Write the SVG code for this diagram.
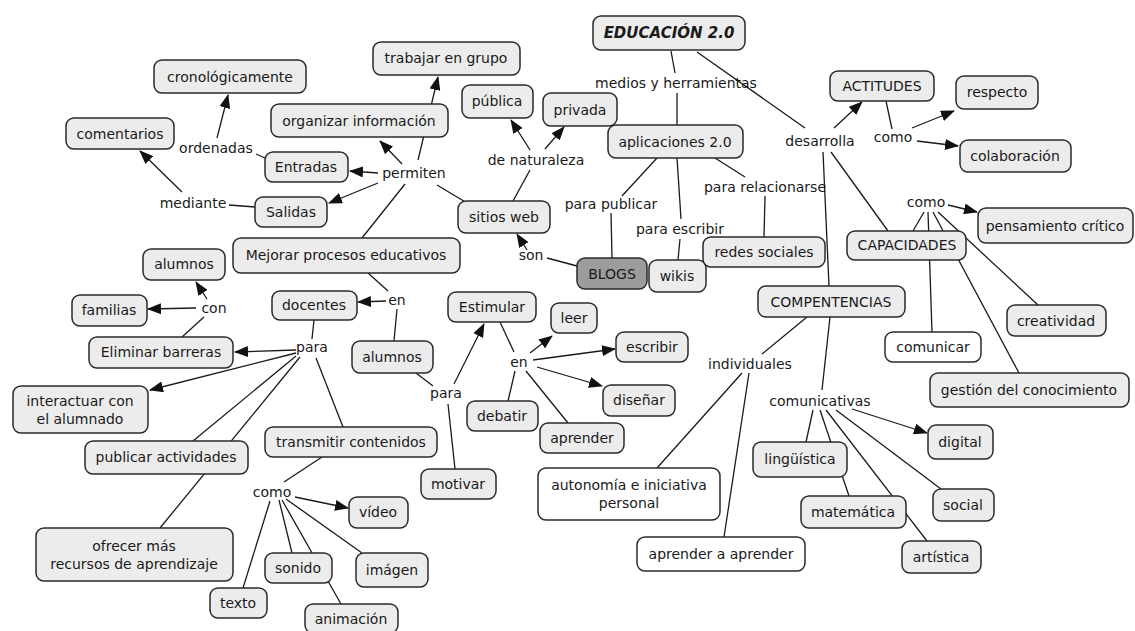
<svg xmlns="http://www.w3.org/2000/svg" width="1135" height="631" viewBox="0 0 1135 631">
<style>
text{font-family:"DejaVu Sans",Verdana,sans-serif;font-size:14px;fill:#1a1a1a;text-anchor:middle;dominant-baseline:central}
.n rect{fill:#ececec;stroke:#2a2a2a;stroke-width:1.5}
.w rect{fill:#ffffff}
.dk rect{fill:#9c9c9c}
#conn line{stroke:#1a1a1a;stroke-width:1.3}
#conn .a{marker-end:url(#ah)}
.t{font-weight:bold;font-style:italic;font-size:15px}
</style>
<defs>
<marker id="ah" markerUnits="userSpaceOnUse" markerWidth="14" markerHeight="11" refX="13" refY="5.5" orient="auto"><path d="M0,0 L14,5.5 L0,11 z" fill="#111"/></marker>
</defs>
<rect width="1135" height="631" fill="#fff"/>
<g id="conn">
<line x1="671" y1="51" x2="675" y2="73"/>
<line x1="677" y1="93" x2="677" y2="125"/>
<line x1="697" y1="52" x2="805" y2="128"/>
<line x1="823" y1="152" x2="829" y2="286"/>
<line x1="831" y1="152" x2="888" y2="231"/>
<line x1="886" y1="101" x2="892" y2="129"/>
<line x1="924" y1="212" x2="913" y2="231"/>
<line x1="928" y1="212" x2="932" y2="332"/>
<line x1="933" y1="212" x2="1019" y2="373"/>
<line x1="938" y1="212" x2="1038" y2="305"/>
<line x1="657" y1="158" x2="622" y2="196"/>
<line x1="611" y1="213" x2="612" y2="258"/>
<line x1="677" y1="158" x2="681" y2="219"/>
<line x1="680" y1="239" x2="678" y2="260"/>
<line x1="715" y1="158" x2="745" y2="177"/>
<line x1="765" y1="196" x2="764" y2="237"/>
<line x1="577" y1="266" x2="547" y2="258"/>
<line x1="513" y1="201" x2="530" y2="170"/>
<line x1="467" y1="203" x2="437" y2="185"/>
<line x1="405" y1="184" x2="362" y2="238"/>
<line x1="265" y1="158" x2="256" y2="154"/>
<line x1="255" y1="207" x2="229" y2="205"/>
<line x1="368" y1="273" x2="388" y2="291"/>
<line x1="397" y1="309" x2="394" y2="341"/>
<line x1="314" y1="320" x2="312" y2="339"/>
<line x1="296" y1="356" x2="193" y2="441"/>
<line x1="300" y1="357" x2="160" y2="528"/>
<line x1="316" y1="358" x2="343" y2="427"/>
<line x1="322" y1="457" x2="284" y2="482"/>
<line x1="286" y1="499" x2="362" y2="553"/>
<line x1="279" y1="500" x2="292" y2="553"/>
<line x1="282" y1="500" x2="341" y2="604"/>
<line x1="270" y1="501" x2="243" y2="588"/>
<line x1="416" y1="373" x2="433" y2="386"/>
<line x1="448" y1="404" x2="455" y2="469"/>
<line x1="500" y1="322" x2="514" y2="352"/>
<line x1="515" y1="371" x2="508" y2="401"/>
<line x1="526" y1="371" x2="568" y2="423"/>
<line x1="807" y1="317" x2="762" y2="354"/>
<line x1="742" y1="373" x2="657" y2="468"/>
<line x1="749" y1="373" x2="724" y2="537"/>
<line x1="830" y1="317" x2="822" y2="390"/>
<line x1="813" y1="410" x2="806" y2="442"/>
<line x1="820" y1="410" x2="849" y2="496"/>
<line x1="826" y1="410" x2="927" y2="541"/>
<line x1="836" y1="410" x2="941" y2="489"/>
<line x1="182" y1="337" x2="204" y2="317"/>
<line class="a" x1="834" y1="128" x2="862" y2="102"/>
<line class="a" x1="912" y1="128" x2="954" y2="111"/>
<line class="a" x1="917" y1="141" x2="958" y2="146"/>
<line class="a" x1="948" y1="205" x2="977" y2="212"/>
<line class="a" x1="527" y1="250" x2="517" y2="234"/>
<line class="a" x1="530" y1="150" x2="511" y2="120"/>
<line class="a" x1="545" y1="149" x2="564" y2="127"/>
<line class="a" x1="402" y1="164" x2="380" y2="141"/>
<line class="a" x1="418" y1="160" x2="438" y2="77"/>
<line class="a" x1="378" y1="173" x2="350" y2="171"/>
<line class="a" x1="378" y1="183" x2="329" y2="203"/>
<line class="a" x1="217" y1="138" x2="228" y2="95"/>
<line class="a" x1="182" y1="192" x2="140" y2="151"/>
<line class="a" x1="386" y1="301" x2="358" y2="302"/>
<line class="a" x1="296" y1="350" x2="235" y2="352"/>
<line class="a" x1="296" y1="353" x2="150" y2="390"/>
<line class="a" x1="295" y1="497" x2="348" y2="508"/>
<line class="a" x1="454" y1="384" x2="484" y2="324"/>
<line class="a" x1="530" y1="353" x2="552" y2="336"/>
<line class="a" x1="533" y1="360" x2="615" y2="349"/>
<line class="a" x1="537" y1="367" x2="602" y2="386"/>
<line class="a" x1="852" y1="409" x2="927" y2="433"/>
<line class="a" x1="196" y1="308" x2="148" y2="309"/>
<line class="a" x1="207" y1="299" x2="196" y2="282"/>
</g>
<g id="edu" class="n"><rect x="593" y="16" width="152" height="34" rx="8"/><text class="t" x="669" y="33">EDUCACIÓN 2.0</text></g>
<g id="crono" class="n"><rect x="154" y="60" width="152" height="33" rx="8"/><text x="230" y="77">cronológicamente</text></g>
<g id="coment" class="n"><rect x="66" y="118" width="108" height="31" rx="8"/><text x="120" y="134">comentarios</text></g>
<g id="trabajar" class="n"><rect x="373" y="42" width="147" height="33" rx="8"/><text x="446" y="58">trabajar en grupo</text></g>
<g id="organizar" class="n"><rect x="271" y="104" width="177" height="33" rx="8"/><text x="359" y="121">organizar información</text></g>
<g id="entradas" class="n"><rect x="265" y="152" width="83" height="30" rx="8"/><text x="306" y="167">Entradas</text></g>
<g id="salidas" class="n"><rect x="255" y="197" width="72" height="30" rx="8"/><text x="291" y="212">Salidas</text></g>
<g id="publica" class="n"><rect x="462" y="85" width="71" height="33" rx="8"/><text x="497" y="101">pública</text></g>
<g id="privada" class="n"><rect x="543" y="93" width="74" height="33" rx="8"/><text x="580" y="110">privada</text></g>
<g id="aplic" class="n"><rect x="608" y="125" width="135" height="33" rx="8"/><text x="675" y="142">aplicaciones 2.0</text></g>
<g id="sitios" class="n"><rect x="458" y="201" width="92" height="32" rx="8"/><text x="504" y="217">sitios web</text></g>
<g id="blogs" class="n dk"><rect x="577" y="258" width="70" height="31" rx="8"/><text x="612" y="274">BLOGS</text></g>
<g id="wikis" class="n"><rect x="649" y="260" width="57" height="32" rx="8"/><text x="677" y="276">wikis</text></g>
<g id="redes" class="n"><rect x="703" y="237" width="122" height="30" rx="8"/><text x="764" y="252">redes sociales</text></g>
<g id="actitudes" class="n"><rect x="830" y="71" width="104" height="30" rx="8"/><text x="882" y="86">ACTITUDES</text></g>
<g id="respecto" class="n"><rect x="956" y="76" width="82" height="33" rx="8"/><text x="997" y="92">respecto</text></g>
<g id="colab" class="n"><rect x="960" y="140" width="111" height="32" rx="8"/><text x="1015" y="156">colaboración</text></g>
<g id="pensamiento" class="n"><rect x="978" y="208" width="155" height="35" rx="8"/><text x="1055" y="226">pensamiento crítico</text></g>
<g id="capacidades" class="n"><rect x="847" y="231" width="119" height="29" rx="8"/><text x="907" y="245">CAPACIDADES</text></g>
<g id="compet" class="n"><rect x="758" y="286" width="147" height="31" rx="8"/><text x="831" y="302">COMPENTENCIAS</text></g>
<g id="creatividad" class="n"><rect x="1007" y="305" width="99" height="31" rx="8"/><text x="1056" y="321">creatividad</text></g>
<g id="comunicar" class="n w"><rect x="885" y="332" width="96" height="30" rx="8"/><text x="933" y="347">comunicar</text></g>
<g id="gestion" class="n"><rect x="930" y="373" width="199" height="34" rx="8"/><text x="1029" y="390">gestión del conocimiento</text></g>
<g id="digital" class="n"><rect x="928" y="425" width="65" height="34" rx="8"/><text x="960" y="442">digital</text></g>
<g id="social" class="n"><rect x="933" y="489" width="61" height="32" rx="8"/><text x="963" y="505">social</text></g>
<g id="artistica" class="n"><rect x="902" y="541" width="79" height="32" rx="8"/><text x="941" y="557">artística</text></g>
<g id="matematica" class="n"><rect x="801" y="496" width="105" height="32" rx="8"/><text x="853" y="512">matemática</text></g>
<g id="linguistica" class="n"><rect x="753" y="442" width="94" height="35" rx="8"/><text x="800" y="459">lingüística</text></g>
<g id="aprAapr" class="n w"><rect x="637" y="537" width="168" height="34" rx="8"/><text x="721" y="554">aprender a aprender</text></g>
<g id="autonomia" class="n w"><rect x="538" y="468" width="182" height="52" rx="8"/><text x="629" y="485">autonomía e iniciativa</text><text x="629" y="503">personal</text></g>
<g id="aprender" class="n"><rect x="540" y="423" width="84" height="30" rx="8"/><text x="582" y="438">aprender</text></g>
<g id="disenar" class="n"><rect x="603" y="385" width="72" height="31" rx="8"/><text x="639" y="400">diseñar</text></g>
<g id="escribir" class="n"><rect x="616" y="332" width="72" height="30" rx="8"/><text x="652" y="347">escribir</text></g>
<g id="leer" class="n"><rect x="551" y="303" width="46" height="30" rx="8"/><text x="574" y="318">leer</text></g>
<g id="estimular" class="n"><rect x="448" y="292" width="88" height="30" rx="8"/><text x="492" y="307">Estimular</text></g>
<g id="debatir" class="n"><rect x="467" y="401" width="71" height="30" rx="8"/><text x="502" y="416">debatir</text></g>
<g id="motivar" class="n"><rect x="421" y="469" width="75" height="30" rx="8"/><text x="458" y="484">motivar</text></g>
<g id="alumnosMid" class="n"><rect x="352" y="341" width="81" height="32" rx="8"/><text x="392" y="357">alumnos</text></g>
<g id="docentes" class="n"><rect x="272" y="291" width="85" height="29" rx="8"/><text x="314" y="305">docentes</text></g>
<g id="mejorar" class="n"><rect x="233" y="238" width="227" height="35" rx="8"/><text x="346" y="255">Mejorar procesos educativos</text></g>
<g id="alumnosL" class="n"><rect x="143" y="249" width="82" height="31" rx="8"/><text x="184" y="264">alumnos</text></g>
<g id="familias" class="n"><rect x="72" y="295" width="75" height="31" rx="8"/><text x="109" y="310">familias</text></g>
<g id="eliminar" class="n"><rect x="89" y="337" width="144" height="31" rx="8"/><text x="161" y="352">Eliminar barreras</text></g>
<g id="interactuar" class="n"><rect x="13" y="386" width="135" height="47" rx="8"/><text x="80" y="401">interactuar con</text><text x="80" y="419">el alumnado</text></g>
<g id="publicar" class="n"><rect x="85" y="441" width="163" height="33" rx="8"/><text x="166" y="457">publicar actividades</text></g>
<g id="transmitir" class="n"><rect x="265" y="427" width="172" height="30" rx="8"/><text x="351" y="442">transmitir contenidos</text></g>
<g id="ofrecer" class="n"><rect x="36" y="528" width="197" height="53" rx="8"/><text x="134" y="546">ofrecer más</text><text x="134" y="564">recursos de aprendizaje</text></g>
<g id="texto" class="n"><rect x="210" y="588" width="57" height="30" rx="8"/><text x="238" y="603">texto</text></g>
<g id="sonido" class="n"><rect x="265" y="553" width="67" height="30" rx="8"/><text x="298" y="568">sonido</text></g>
<g id="video" class="n"><rect x="349" y="497" width="59" height="31" rx="8"/><text x="378" y="512">vídeo</text></g>
<g id="imagen" class="n"><rect x="356" y="553" width="72" height="34" rx="8"/><text x="392" y="570">imágen</text></g>
<g id="animacion" class="n"><rect x="305" y="604" width="93" height="29" rx="8"/><text x="351" y="619">animación</text></g>
<g id="labels">
<text x="676" y="83">medios y herramientas</text>
<text x="820" y="141">desarrolla</text>
<text x="893" y="137">como</text>
<text x="926" y="202">como</text>
<text x="765" y="187">para relacionarse</text>
<text x="611" y="204">para publicar</text>
<text x="680" y="229">para escribir</text>
<text x="531" y="255">son</text>
<text x="536" y="160">de naturaleza</text>
<text x="414" y="173">permiten</text>
<text x="216" y="148">ordenadas</text>
<text x="193" y="203">mediante</text>
<text x="397" y="300">en</text>
<text x="214" y="308">con</text>
<text x="312" y="347">para</text>
<text x="519" y="362">en</text>
<text x="446" y="393">para</text>
<text x="750" y="364">individuales</text>
<text x="820" y="401">comunicativas</text>
<text x="272" y="492">como</text>
</g>
</svg>
